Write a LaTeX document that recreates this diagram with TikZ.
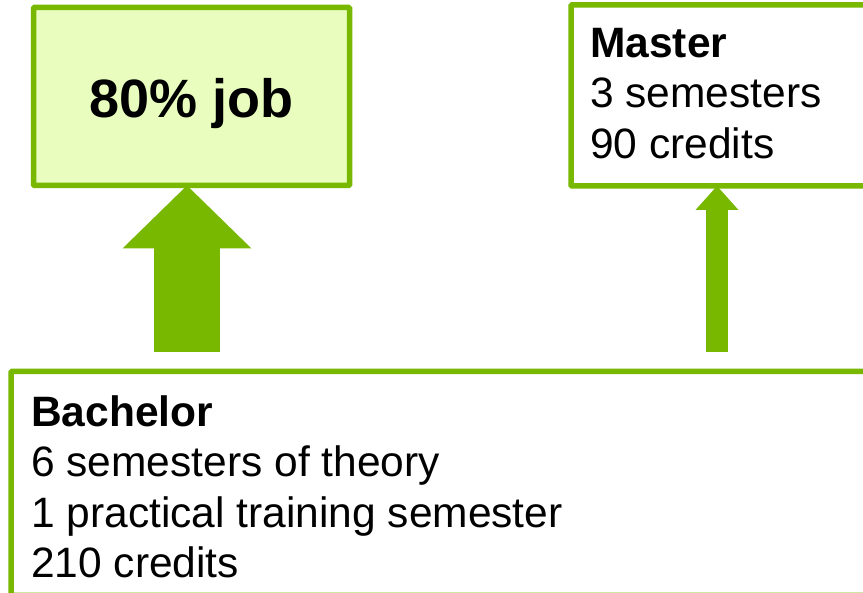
\documentclass[tikz,border=0pt]{standalone}
\usepackage{fontspec}
\setmainfont{Liberation Sans}
\usetikzlibrary{arrows.meta}
\definecolor{grn}{HTML}{78B800}
\definecolor{lightgrn}{HTML}{E9FEBE}
\tikzset{
  box/.style={draw=grn, line width=5.5pt, rounded corners=1pt, rectangle, inner sep=0pt, outer sep=0pt},
  bodytext/.style={font=\fontsize{42.5}{50.5}\selectfont, align=left, inner sep=0pt, anchor=north west},
  bigarrow/.style={draw=grn, line width=66pt, -{Triangle[width=129pt, length=63pt, line width=0pt]}},
  smallarrow/.style={draw=grn, line width=22pt, -{Triangle[width=43pt, length=24pt, line width=0pt]}}
}
\begin{document}
\begin{tikzpicture}[x=1pt, y=-1pt]
\clip (0,0) rectangle (863,593);
\fill[white] (0,0) rectangle (863,593);
% boxes
\node[box, fill=lightgrn, minimum width=316pt, minimum height=178pt,
      font=\bfseries\fontsize{54}{60}\selectfont, text height=42.5pt, text depth=0pt]
      (job) at (191.5,96.5) {80\% job};
\node[box, fill=white, anchor=north west, minimum width=340pt, minimum height=181pt]
      (master) at (571,5) {};
\node[box, fill=white, anchor=north west, minimum width=870pt, minimum height=224pt]
      (bach) at (11,371.5) {};
% texts
\node[bodytext] (mastertxt) at ([shift={(19,23)}]master.north west)
  {\textbf{Master}\\3 semesters\\90 credits};
\node[bodytext] (bachtxt) at ([shift={(20,24)}]bach.north west)
  {\textbf{Bachelor}\\6 semesters of theory\\1 practical training semester\\210 credits};
% arrows
\coordinate (a1s) at (187,352);
\coordinate (a2s) at (717,352);
\draw[bigarrow] (a1s) -- (a1s |- job.south);
\draw[smallarrow] (a2s) -- (a2s |- master.south);
\end{tikzpicture}
\end{document}
